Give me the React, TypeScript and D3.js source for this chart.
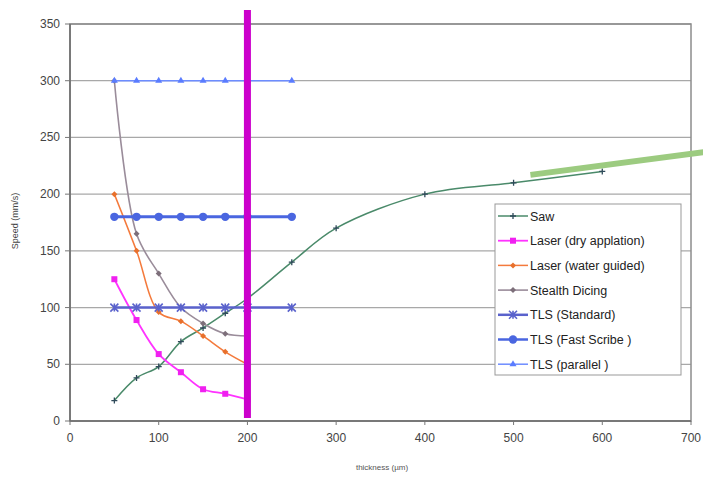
import React from 'react';
import * as d3 from 'd3';

// thickness (µm) / speed (mm/s)
const sawX = [50, 75, 100, 125, 150, 175, 200, 250, 300, 400, 500, 600];
const sawY = [18, 38, 48, 70, 82, 95, 108, 140, 170, 200, 210, 220];

const dryX = [50, 75, 100, 125, 150, 175, 200];
const dryY = [125, 89, 59, 43, 28, 24, 19];

const waterX = [50, 75, 100, 125, 150, 175, 200];
const waterY = [200, 150, 96, 88, 75, 61, 50];

const stealthX = [50, 75, 100, 125, 150, 175, 200];
const stealthY = [300, 165, 130, 100, 86, 77, 75];

const tlsX = [50, 75, 100, 125, 150, 175, 200, 250];
const tlsStandardY = [100, 100, 100, 100, 100, 100, 100, 100];
const tlsFastY = [180, 180, 180, 180, 180, 180, 180, 180];
const tlsParallelY = [300, 300, 300, 300, 300, 300, 300, 300];

const xTicks = [0, 100, 200, 300, 400, 500, 600, 700];
const yTicks = [0, 50, 100, 150, 200, 250, 300, 350];

const legendNames = [
  'Saw',
  'Laser (dry applation)',
  'Laser (water guided)',
  'Stealth Dicing',
  'TLS (Standard)',
  'TLS (Fast Scribe )',
  'TLS (parallel )',
];

// annotation marks drawn over the chart
const markerLineX = 200;
const greenLine = [
  [519, 217],
  [715, 237],
];

const W = 703;
const H = 483;
const left = 70;
const right = 691;
const top = 24;
const bottom = 421;

type Series = {
  name: string;
  xs: number[];
  ys: number[];
  color: string;
  width: number;
  marker: string;
  markerColor: string;
  smooth: boolean;
};

const App = () => {
  const x = d3.scaleLinear().domain([0, 700]).range([left, right]);
  const y = d3.scaleLinear().domain([0, 350]).range([bottom, top]);

  const series: Series[] = [
    { name: legendNames[0], xs: sawX, ys: sawY, color: '#4a8a6a', width: 1.5, marker: 'plus', markerColor: '#2f4a5a', smooth: true },
    { name: legendNames[1], xs: dryX, ys: dryY, color: '#ff33ff', width: 1.8, marker: 'square', markerColor: '#f020f0', smooth: true },
    { name: legendNames[2], xs: waterX, ys: waterY, color: '#f47a3c', width: 1.5, marker: 'diamond', markerColor: '#e8702c', smooth: true },
    { name: legendNames[3], xs: stealthX, ys: stealthY, color: '#9a8c9a', width: 1.6, marker: 'diamond', markerColor: '#7d6f7a', smooth: true },
    { name: legendNames[4], xs: tlsX, ys: tlsStandardY, color: '#5a62cc', width: 2.5, marker: 'cross', markerColor: '#5a62cc', smooth: false },
    { name: legendNames[5], xs: tlsX, ys: tlsFastY, color: '#4a66e0', width: 3, marker: 'circle', markerColor: '#4a66e0', smooth: false },
    { name: legendNames[6], xs: tlsX, ys: tlsParallelY, color: '#6d8cff', width: 1.5, marker: 'triangle', markerColor: '#5a7cff', smooth: false },
  ];

  const drawMarker = (kind: string, cx: number, cy: number, color: string, key: string | number) => {
    if (kind === 'plus')
      return (
        <path key={key} d={`M${cx - 3},${cy}H${cx + 3}M${cx},${cy - 3}V${cy + 3}`} stroke={color} strokeWidth={1.3} />
      );
    if (kind === 'square')
      return <rect key={key} x={cx - 3} y={cy - 3} width={6} height={6} fill={color} />;
    if (kind === 'diamond')
      return <path key={key} d={`M${cx},${cy - 3}L${cx + 3},${cy}L${cx},${cy + 3}L${cx - 3},${cy}Z`} fill={color} />;
    if (kind === 'cross')
      return (
        <path
          key={key}
          d={`M${cx - 4},${cy - 4}L${cx + 4},${cy + 4}M${cx - 4},${cy + 4}L${cx + 4},${cy - 4}M${cx},${cy - 4}V${cy + 4}`}
          stroke={color}
          strokeWidth={1.6}
        />
      );
    if (kind === 'circle') return <circle key={key} cx={cx} cy={cy} r={4.2} fill={color} />;
    return <path key={key} d={`M${cx},${cy - 4}L${cx + 3.5},${cy + 2}L${cx - 3.5},${cy + 2}Z`} fill={color} />;
  };

  const legendX = 495;
  const legendY = 204;
  const rowH = 24.7;

  return (
    <svg width={W} height={H} style={{ position: 'absolute', left: 0, top: 0, background: '#fff' }}>
      {/* grid */}
      {yTicks.map((t) => (
        <line key={t} x1={left} x2={right} y1={y(t)} y2={y(t)} stroke="#a8a8a8" strokeWidth={1.3} />
      ))}
      <rect x={left} y={top} width={right - left} height={bottom - top} fill="none" stroke="#8c8c8c" strokeWidth={1.5} />
      <line x1={left} x2={left} y1={top} y2={bottom} stroke="#6e6e6e" strokeWidth={1.6} />
      <line x1={left} x2={right} y1={bottom} y2={bottom} stroke="#6e6e6e" strokeWidth={1.6} />

      {/* ticks */}
      {yTicks.map((t) => (
        <g key={t}>
          <line x1={left - 5} x2={left} y1={y(t)} y2={y(t)} stroke="#777" />
          <text x={left - 10} y={y(t) + 4} textAnchor="end" fontSize={12} fill="#444" fontFamily="Liberation Sans, Arial">
            {t}
          </text>
        </g>
      ))}
      {xTicks.map((t) => (
        <g key={t}>
          <line x1={x(t)} x2={x(t)} y1={bottom} y2={bottom + 4} stroke="#777" />
          <text x={x(t)} y={bottom + 21} textAnchor="middle" fontSize={12} fill="#444" fontFamily="Liberation Sans, Arial">
            {t}
          </text>
        </g>
      ))}
      <text x={382} y={470} textAnchor="middle" fontSize={8} fill="#555" fontFamily="Liberation Sans, Arial">
        thickness (µm)
      </text>
      <text
        transform={`translate(18,221) rotate(-90)`}
        textAnchor="middle"
        fontSize={9}
        fill="#444"
        fontFamily="Liberation Sans, Arial"
      >
        Speed (mm/s)
      </text>

      {/* series */}
      {series.map((s, i) => {
        const pts = s.xs.map((v, j) => [v, s.ys[j]] as [number, number]);
        const gen = d3
          .line<[number, number]>()
          .x((d) => x(d[0]))
          .y((d) => y(d[1]))
          .curve(s.smooth ? d3.curveCatmullRom.alpha(0.5) : d3.curveLinear);
        return (
          <g key={i}>
            <path d={gen(pts) || ''} fill="none" stroke={s.color} strokeWidth={s.width} />
            {pts.map((p, j) => drawMarker(s.marker, x(p[0]), y(p[1]), s.markerColor, j))}
          </g>
        );
      })}

      {/* legend */}
      <rect x={legendX} y={legendY} width={186} height={171} fill="#fff" stroke="#999" strokeWidth={1} />
      {series.map((s, i) => {
        const cy = legendY + 12 + i * rowH;
        return (
          <g key={i}>
            <line x1={legendX + 3} x2={legendX + 33} y1={cy} y2={cy} stroke={s.color} strokeWidth={Math.min(s.width, 2.5)} />
            {drawMarker(s.marker, legendX + 18, cy, s.markerColor, 'm')}
            <text x={legendX + 35} y={cy + 4.5} fontSize={12.5} fill="#222" fontFamily="Liberation Sans, Arial">
              {s.name}
            </text>
          </g>
        );
      })}

      {/* annotations */}
      <line x1={x(markerLineX)} x2={x(markerLineX)} y1={10} y2={418} stroke="#cc00cc" strokeWidth={7} />
      <line
        x1={x(greenLine[0][0])}
        y1={y(greenLine[0][1])}
        x2={x(greenLine[1][0])}
        y2={y(greenLine[1][1])}
        stroke="#9ccb80"
        strokeWidth={6}
      />
    </svg>
  );
};

export default App;
